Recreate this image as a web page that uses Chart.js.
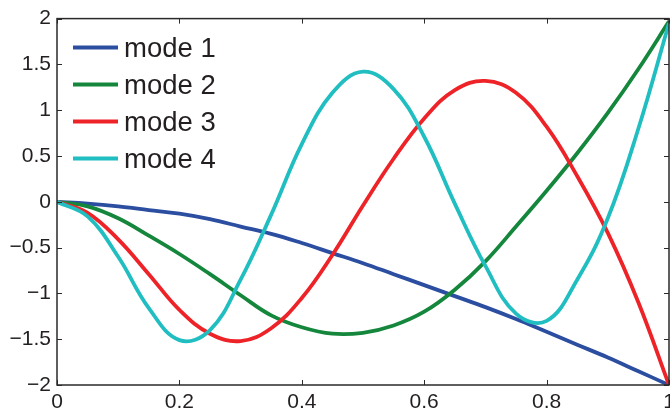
<!DOCTYPE html>
<html>
<head>
<meta charset="utf-8">
<script src="https://cdn.jsdelivr.net/npm/chart.js@4"></script>
<style>
  html, body { margin: 0; padding: 0; background: #fff; overflow: hidden; width: 670px; height: 415px; }
  #wrap { width: 680px; height: 415px; }
</style>
</head>
<body>
<div id="wrap"><canvas id="chart" width="680" height="415"></canvas></div>
<script>
// positions along the beam
const xs = [0, 0.05, 0.1, 0.15, 0.2, 0.25, 0.3, 0.35, 0.4, 0.45, 0.5,
  0.55, 0.6, 0.65, 0.7, 0.75, 0.8, 0.85, 0.9, 0.95, 1];
// mode shapes
const mode1 = [0, -0.02, -0.05, -0.09, -0.13, -0.19, -0.27, -0.35, -0.45, -0.56, -0.67,
  -0.79, -0.91, -1.03, -1.15, -1.28, -1.42, -1.56, -1.70, -1.85, -2.0];
const mode2 = [0, -0.05, -0.18, -0.37, -0.57, -0.79, -1.02, -1.24, -1.37, -1.44, -1.43,
  -1.35, -1.20, -0.96, -0.65, -0.27, 0.12, 0.53, 0.97, 1.45, 1.97];
const mode3 = [0, -0.12, -0.41, -0.79, -1.18, -1.44, -1.52, -1.38, -1.05, -0.58, -0.04,
  0.47, 0.91, 1.22, 1.32, 1.19, 0.82, 0.28, -0.34, -1.10, -2.0];
const mode4 = [0, -0.16, -0.60, -1.16, -1.51, -1.40, -0.85, -0.14, 0.63, 1.19, 1.42,
  1.23, 0.71, -0.02, -0.70, -1.22, -1.30, -0.85, -0.18, 0.80, 1.95];
const labels = ['mode 1', 'mode 2', 'mode 3', 'mode 4'];
const colors = ['#2c4ea0', '#14873c', '#ee2328', '#20bec0'];
const xTicks = [0, 0.2, 0.4, 0.6, 0.8, 1];

const textColor = '#231f20';
const fontFamily = '"Liberation Sans", Arial, Helvetica, sans-serif';

function pts(ys) {
  return xs.map((x, i) => ({ x: x, y: ys[i] }));
}

// box with inward ticks, matlab style
const frame = {
  id: 'frame',
  afterDatasetsDraw(chart) {
    const { ctx, chartArea: a, scales } = chart;
    const len = 5;
    ctx.save();
    ctx.strokeStyle = '#2a2a2a';
    ctx.lineWidth = 1;
    ctx.beginPath();
    scales.x.ticks.forEach(t => {
      const px = Math.round(scales.x.getPixelForValue(t.value)) + 0.5;
      ctx.moveTo(px, a.bottom); ctx.lineTo(px, a.bottom - len);
      ctx.moveTo(px, a.top); ctx.lineTo(px, a.top + len);
    });
    scales.y.ticks.forEach(t => {
      const py = Math.round(scales.y.getPixelForValue(t.value)) + 0.5;
      ctx.moveTo(a.left, py); ctx.lineTo(a.left + len, py);
      ctx.moveTo(a.right, py); ctx.lineTo(a.right - len, py);
    });
    ctx.stroke();
    ctx.lineWidth = 1.5;
    ctx.strokeRect(a.left, a.top, a.right - a.left, a.bottom - a.top);
    ctx.restore();
  }
};

// legend in the upper left of the axes
const legendBox = {
  id: 'legendBox',
  afterDatasetsDraw(chart) {
    const { ctx, chartArea: a } = chart;
    ctx.save();
    ctx.font = '27.5px ' + fontFamily;
    ctx.textBaseline = 'middle';
    ctx.fillStyle = textColor;
    chart.data.datasets.forEach((ds, i) => {
      const y = a.top + 29 + i * 37;
      ctx.strokeStyle = ds.borderColor;
      ctx.lineWidth = 4;
      ctx.beginPath();
      ctx.moveTo(a.left + 16, y);
      ctx.lineTo(a.left + 61, y);
      ctx.stroke();
      ctx.fillText(ds.label, a.left + 67, y + 2);
    });
    ctx.restore();
  }
};

const ctx = document.getElementById('chart');
new Chart(ctx, {
  type: 'line',
  data: {
    datasets: [mode1, mode2, mode3, mode4].map((ys, i) => ({
      label: labels[i],
      data: pts(ys),
      borderColor: colors[i],
      backgroundColor: colors[i],
      borderWidth: 3.8,
      pointRadius: 0,
      tension: 0.4,
      order: 3 - i
    }))
  },
  options: {
    responsive: false,
    animation: false,
    layout: { padding: { top: 15, right: 11, left: 0, bottom: 0 } },
    plugins: { legend: { display: false }, tooltip: { enabled: false } },
    scales: {
      x: {
        type: 'linear',
        min: 0,
        max: 1,
        afterBuildTicks(scale) {
          scale.ticks = xTicks.map(v => ({ value: v }));
        },
        afterFit(scale) { scale.height = 30; },
        grid: { display: false, drawTicks: false },
        border: { display: false },
        ticks: {
          padding: 5,
          color: textColor,
          font: { family: fontFamily, size: 21 },
          maxRotation: 0,
          callback: v => String(v)
        }
      },
      y: {
        min: -2,
        max: 2,
        afterFit(scale) { scale.width = 57; },
        grid: { display: false, drawTicks: false },
        border: { display: false },
        ticks: {
          stepSize: 0.5,
          padding: 6,
          color: textColor,
          font: { family: fontFamily, size: 21 },
          callback: v => String(v).replace('-', '\u2212')
        }
      }
    }
  },
  plugins: [frame, legendBox]
});
</script>
</body>
</html>
